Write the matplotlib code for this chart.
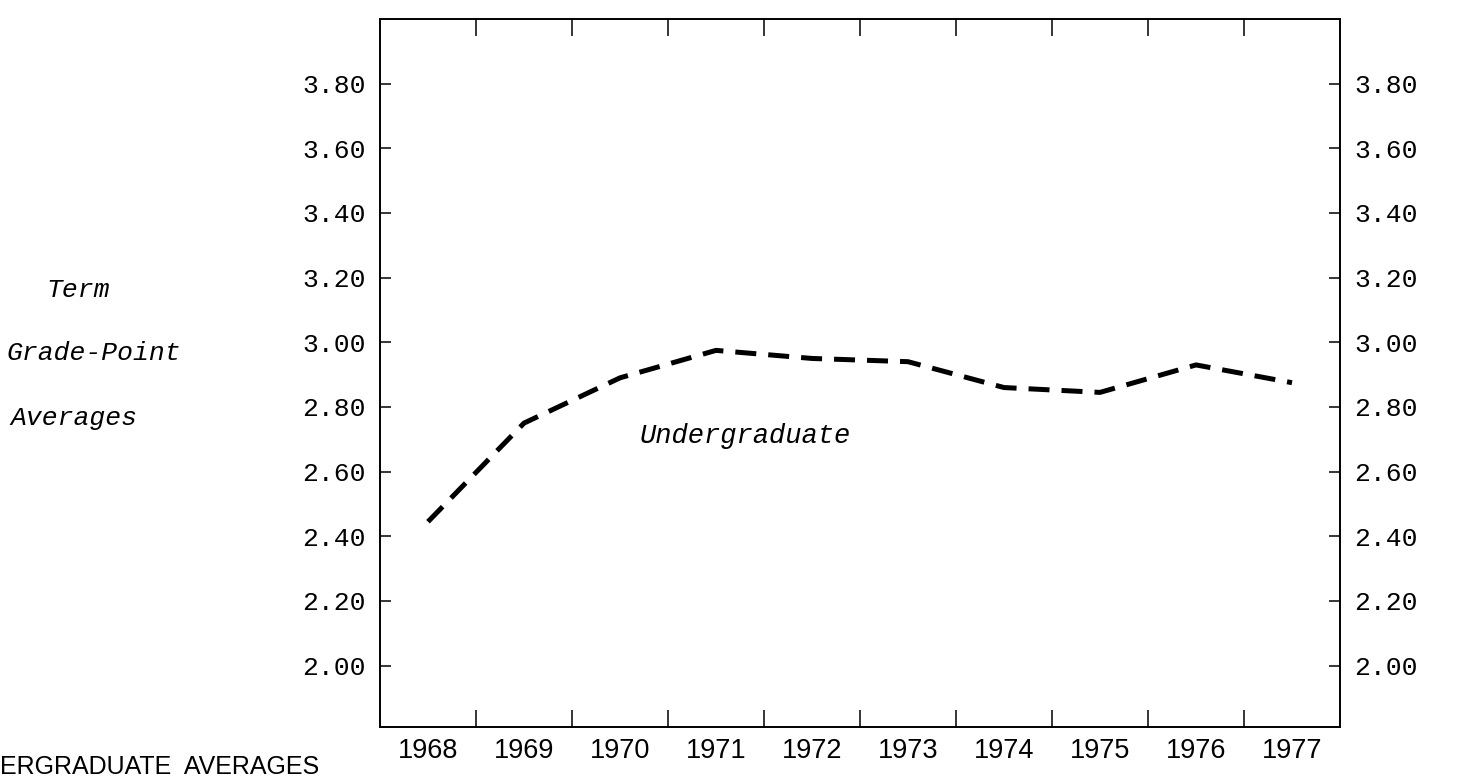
import matplotlib
matplotlib.use("Agg")
import matplotlib.pyplot as plt
from matplotlib.ticker import FixedLocator, NullFormatter, FixedFormatter

years = ["1968", "1969", "1970", "1971", "1972", "1973", "1974", "1975", "1976", "1977"]
undergrad_gpa = [2.445, 2.75, 2.89, 2.975, 2.95, 2.94, 2.86, 2.845, 2.93, 2.875]
gpa_ticks = [2.00, 2.20, 2.40, 2.60, 2.80, 3.00, 3.20, 3.40, 3.60, 3.80]

mono = ["Liberation Mono", "DejaVu Sans Mono"]
plain = ["Liberation Sans", "DejaVu Sans"]

fig = plt.figure(figsize=(14.58, 7.8), dpi=100)
ax = fig.add_axes([380 / 1458, 1 - 727 / 780, 960 / 1458, 708 / 780])

x = list(range(len(years)))
ax.plot(x, undergrad_gpa, color="black", lw=3.6, linestyle=(0, (4.2, 2.4)),
        dash_capstyle="butt")

ax.set_xlim(-0.5, len(years) - 0.5)
ax.set_ylim(1.81, 4.0)

for s in ax.spines.values():
    s.set_linewidth(1.4)

# y axis: labels on both sides, ticks pointing in
ax.set_yticks(gpa_ticks)
ax.set_yticklabels(["%.2f" % v for v in gpa_ticks], family=mono, fontsize=19)
ax.tick_params(axis="y", direction="in", length=8, width=1.1, pad=10,
               left=True, right=True, labelleft=True, labelright=True)

# x axis: ticks at boundaries, year labels centred between them
ax.xaxis.set_major_locator(FixedLocator([i + 0.5 for i in x[:-1]]))
ax.xaxis.set_major_formatter(NullFormatter())
ax.xaxis.set_minor_locator(FixedLocator(x))
ax.xaxis.set_minor_formatter(FixedFormatter(years))
ax.tick_params(axis="x", which="major", direction="in", length=12, width=1.1,
               top=True, bottom=True)
ax.tick_params(axis="x", which="minor", length=0, pad=8, labelsize=19.5)
for lab in ax.get_xticklabels(minor=True):
    lab.set_family(plain)

ax.text(3.3, 2.71, "Undergraduate", family=mono, style="italic",
        fontsize=19.5, ha="center", va="center")

fig.text(46 / 1458, 1 - 290 / 780, "Term", family=mono, style="italic",
         fontsize=19, ha="left", va="center")
fig.text(6 / 1458, 1 - 353 / 780, "Grade-Point", family=mono, style="italic",
         fontsize=19, ha="left", va="center")
fig.text(10 / 1458, 1 - 418 / 780, "Averages", family=mono, style="italic",
         fontsize=19, ha="left", va="center")

fig.text(0, 1 / 780, "ERGRADUATE  AVERAGES", family=plain,
         fontsize=18, ha="left", va="bottom")

fig.savefig("out.png", dpi=100)
